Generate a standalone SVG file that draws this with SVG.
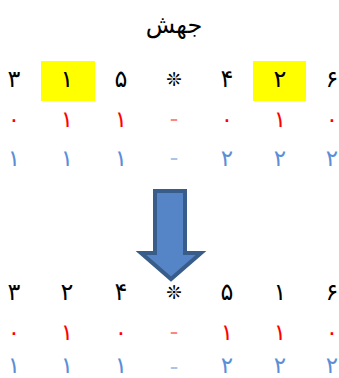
<svg xmlns="http://www.w3.org/2000/svg" width="339" height="378" viewBox="0 0 339 378">
<style>
text{font-family:"DejaVu Sans","Noto Sans",sans-serif;text-anchor:middle;dominant-baseline:central}
.k{font-size:24px;fill:#000}
.s{font-size:19px;fill:#000;font-weight:bold}
.r{font-size:23px;fill:#FF0000}
.b{font-size:23px;fill:#5A8ED6}
.rd{font-size:16px;fill:#FF8585;font-weight:bold}
.bd{font-size:16px;fill:#A9C4E8;font-weight:bold}
.hl{fill:#FFFF00}
.t{font-size:24px;fill:#000}
</style>
<g id="title"><text class="t" x="174" y="25">جهش</text></g>
<g id="before">
<rect class="hl" x="41" y="61" width="54" height="40"/>
<rect class="hl" x="253" y="61" width="53" height="40"/>
<text class="k" x="14" y="79">۳</text>
<text class="k" x="67" y="79">۱</text>
<text class="k" x="121" y="79">۵</text>
<text class="s" x="174" y="79">❊</text>
<text class="k" x="227" y="79">۴</text>
<text class="k" x="280" y="79">۲</text>
<text class="k" x="332" y="79">۶</text>
<text class="r" x="14" y="119">۰</text>
<text class="r" x="67" y="119">۱</text>
<text class="r" x="121" y="119">۱</text>
<text class="rd" x="174" y="118">–</text>
<text class="r" x="227" y="119">۰</text>
<text class="r" x="280" y="119">۱</text>
<text class="r" x="332" y="119">۰</text>
<text class="b" x="14" y="158">۱</text>
<text class="b" x="67" y="158">۱</text>
<text class="b" x="121" y="158">۱</text>
<text class="bd" x="174" y="157">–</text>
<text class="b" x="227" y="158">۲</text>
<text class="b" x="280" y="158">۲</text>
<text class="b" x="332" y="158">۲</text>
</g>
<g id="arrow"><path d="M155,191 H185 V253 H201 L171,279 L141,253 H155 Z" fill="#5585C6" stroke="#385D8A" stroke-width="4" stroke-linejoin="miter"/></g>
<g id="after">
<text class="k" x="14" y="292">۳</text>
<text class="k" x="67" y="292">۲</text>
<text class="k" x="121" y="292">۴</text>
<text class="s" x="174" y="292">❊</text>
<text class="k" x="227" y="292">۵</text>
<text class="k" x="280" y="292">۱</text>
<text class="k" x="332" y="292">۶</text>
<text class="r" x="14" y="332">۰</text>
<text class="r" x="67" y="332">۱</text>
<text class="r" x="121" y="332">۰</text>
<text class="rd" x="174" y="331">–</text>
<text class="r" x="227" y="332">۱</text>
<text class="r" x="280" y="332">۱</text>
<text class="r" x="332" y="332">۰</text>
<text class="b" x="14" y="365">۱</text>
<text class="b" x="67" y="365">۱</text>
<text class="b" x="121" y="365">۱</text>
<text class="bd" x="174" y="366">–</text>
<text class="b" x="227" y="365">۲</text>
<text class="b" x="280" y="365">۲</text>
<text class="b" x="332" y="365">۲</text>
</g>
</svg>
